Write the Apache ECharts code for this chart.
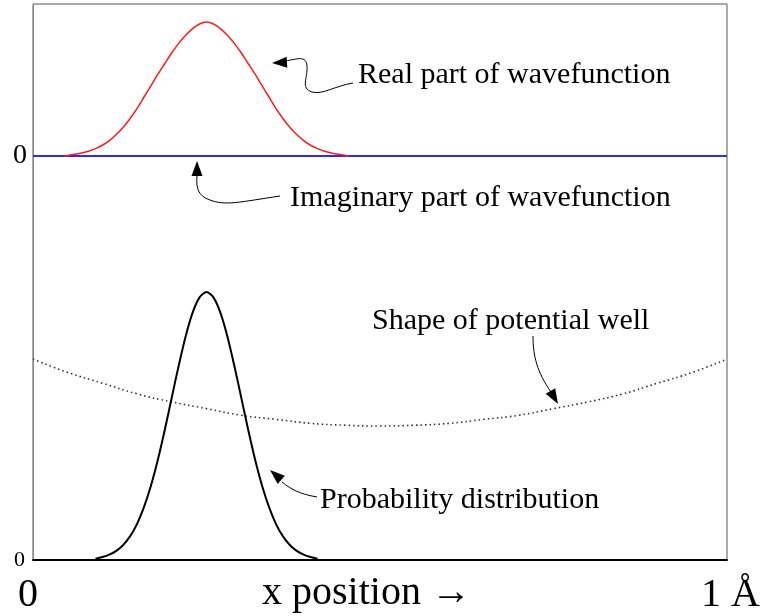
<!DOCTYPE html>
<html>
<head>
<meta charset="utf-8">
<script src="https://cdn.jsdelivr.net/npm/echarts@6/dist/echarts.min.js"></script>
<style>
html,body{margin:0;padding:0;background:#fff;}
#chart{width:762px;height:616px;}
</style>
</head>
<body>
<div id="chart"></div>
<script>
// ---- data (x in fraction of 1 Å) ----
const realX = [0.045,0.05,0.06,0.07,0.08,0.09,0.10,0.11,0.12,0.13,0.14,0.15,0.16,0.17,0.18,0.19,0.20,0.21,0.22,0.23,0.24,0.25,0.26,0.27,0.28,0.29,0.30,0.31,0.32,0.33,0.34,0.35,0.36,0.37,0.38,0.39,0.40,0.41,0.42,0.43,0.44,0.45,0.455];
const realY = [0.0,0.004,0.012,0.022,0.035,0.055,0.08,0.115,0.16,0.215,0.28,0.355,0.44,0.525,0.61,0.69,0.77,0.84,0.90,0.95,0.985,1.0,0.985,0.95,0.90,0.84,0.77,0.69,0.61,0.525,0.44,0.355,0.28,0.215,0.16,0.115,0.08,0.055,0.035,0.022,0.012,0.004,0.0];
const imagX = [0,1];
const imagY = [0,0];
const probX = [0.09,0.10,0.11,0.12,0.13,0.14,0.15,0.16,0.17,0.18,0.19,0.20,0.21,0.22,0.23,0.24,0.25,0.26,0.27,0.28,0.29,0.30,0.31,0.32,0.33,0.34,0.35,0.36,0.37,0.38,0.39,0.40,0.41];
const probY = [0.005,0.011,0.02,0.034,0.056,0.089,0.135,0.198,0.278,0.375,0.487,0.607,0.726,0.835,0.923,0.98,1.0,0.98,0.923,0.835,0.726,0.607,0.487,0.375,0.278,0.198,0.135,0.089,0.056,0.034,0.02,0.011,0.005];
const potX = [0,0.05,0.10,0.15,0.20,0.25,0.30,0.35,0.40,0.45,0.50,0.55,0.60,0.65,0.70,0.75,0.80,0.85,0.90,0.95,1.0];
const potY = [0.75,0.70,0.66,0.62,0.59,0.565,0.54,0.525,0.51,0.503,0.5,0.503,0.51,0.525,0.54,0.565,0.59,0.62,0.66,0.70,0.75];
const zeroTick = [0];
const xTickLabels = ['0','1 Å'];
const xAxisTitle = 'x position →';
const notes = ['Real part of wavefunction','Imaginary part of wavefunction','Shape of potential well','Probability distribution'];

const FONT = "'Liberation Serif','Times New Roman',serif";
const zip = (xs, ys) => xs.map((x,i)=>[x, ys[i]]);

function arrowHead(tx, ty, dx, dy, len, hw){
  const n = Math.hypot(dx,dy); dx/=n; dy/=n;
  const bx = tx - dx*len, by = ty - dy*len;
  const px = -dy*hw, py = dx*hw;
  return {type:'polygon', silent:true, shape:{points:[[tx,ty],[bx+px,by+py],[bx-px,by-py]]}, style:{fill:'#000'}};
}
// segs: [x1,y1,cpx1,cpy1,cpx2,cpy2,x2,y2]
function curve(segs){
  return segs.map(s => ({type:'bezierCurve', silent:true,
    shape:{x1:s[0], y1:s[1], cpx1:s[2], cpy1:s[3], cpx2:s[4], cpy2:s[5], x2:s[6], y2:s[7]},
    style:{stroke:'#000', lineWidth:1, fill:null}}));
}
function txt(x,y,s,size,align){
  return {type:'text', silent:true, x:x, y:y, style:{text:s, font: size+'px '+FONT, fill:'#000', align:align||'left', verticalAlign:'middle'}};
}

const chart = echarts.init(document.getElementById('chart'), null, {renderer:'canvas'});
const grid = {left:33, right:35, top:4, bottom:56};
chart.setOption({
  animation:false,
  backgroundColor:'#fff',
  grid:[
    Object.assign({show:false}, grid),
    Object.assign({show:true, borderColor:'#555', borderWidth:1, backgroundColor:'transparent'}, grid)
  ],
  xAxis:[
    {type:'value', gridIndex:0, min:0, max:1, show:false},
    {type:'value', gridIndex:1, min:0, max:1, splitLine:{show:false},
      axisLine:{show:true, lineStyle:{color:'#000', width:2}}, axisTick:{show:false}, axisLabel:{show:false}}
  ],
  yAxis:[
    {type:'value', gridIndex:0, min:-3.015, max:1.134, splitLine:{show:false},
      axisLine:{show:false}, axisTick:{show:false},
      axisLabel:{show:true, customValues:zeroTick, fontSize:28, fontFamily:FONT, color:'#000', margin:6, padding:[0,0,6,0], formatter:v=>String(Math.round(v))}},
    {type:'value', gridIndex:1, min:0, max:2.075, splitLine:{show:false},
      axisLine:{show:true, onZero:false, lineStyle:{color:'#888', width:1}}, axisTick:{show:false},
      axisLabel:{show:true, customValues:zeroTick, fontSize:22, fontFamily:FONT, color:'#000', margin:8, padding:[0,0,10,0], formatter:v=>String(Math.round(v))}}
  ],
  series:[
    {name:'Imaginary part', type:'line', xAxisIndex:0, yAxisIndex:0, data:zip(imagX,imagY), showSymbol:false, lineStyle:{color:'#2a2aff', width:2}, z:2},
    {name:'Real part', type:'line', xAxisIndex:0, yAxisIndex:0, data:zip(realX,realY), smooth:0.3, showSymbol:false, lineStyle:{color:'#ff1a1a', width:1.5}, z:3},
    {name:'Potential', type:'line', xAxisIndex:1, yAxisIndex:1, data:zip(potX,potY), smooth:true, showSymbol:false, lineStyle:{color:'#333', width:1.6, type:[1.5,3]}, z:2},
    {name:'Probability', type:'line', xAxisIndex:1, yAxisIndex:1, data:zip(probX,probY), smooth:0.3, showSymbol:false, lineStyle:{color:'#000', width:2}, z:3}
  ],
  graphic:[
    txt(358,75,notes[0],30),
    txt(290,198,notes[1],30),
    txt(372,321,notes[2],30),
    txt(320,500,notes[3],30),
    txt(18,595,xTickLabels[0],40),
    txt(760,595,xTickLabels[1],40,'right'),
    txt(262,593,xAxisTitle,40),
    arrowHead(272,63,-1,0.05,15,5.5),
    arrowHead(197,161,0,-1,15,5.5),
    arrowHead(558,404,0.5,0.86,15,5.5),
    arrowHead(270,470,-0.75,-0.66,15,5.5)
  ].concat(
    curve([[285,61,298,59,306,55,307,66],[307,66,308,78,300,88,312,92],[312,92,322,95,335,86,353,83]]),
    curve([[197,176,196,188,198,196,210,200],[210,200,225,206,240,202,280,196]]),
    curve([[533,336,533,356,537,372,551,392]]),
    curve([[282,482,292,490,300,494,317,497]])
  )
});
</script>
</body>
</html>
